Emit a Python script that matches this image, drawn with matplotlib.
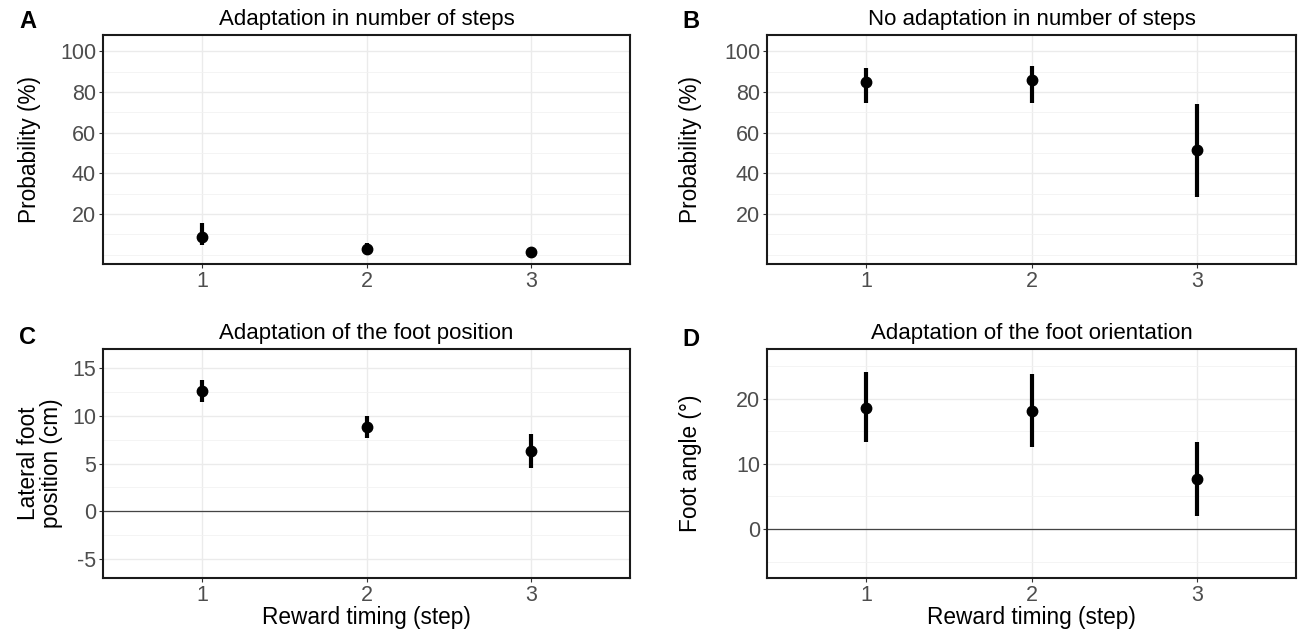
import matplotlib
matplotlib.use("Agg")
import matplotlib.pyplot as plt
import numpy as np

plt.rcParams['font.family'] = ['Liberation Sans', 'DejaVu Sans']
plt.rcParams['axes.unicode_minus'] = False

steps = [1, 2, 3]
step_labels = ["1", "2", "3"]

adapt_mean = [8.7, 3.0, 1.1]
adapt_lo = [4.6, 1.3, 0.5]
adapt_hi = [15.6, 5.7, 1.8]

noadapt_mean = [85.2, 86.1, 51.3]
noadapt_lo = [74.4, 74.6, 28.2]
noadapt_hi = [91.8, 93.0, 73.9]

pos_mean = [12.6, 8.83, 6.28]
pos_lo = [11.45, 7.64, 4.5]
pos_hi = [13.7, 9.98, 8.1]

angle_mean = [18.6, 18.1, 7.6]
angle_lo = [13.3, 12.55, 2.0]
angle_hi = [24.0, 23.7, 13.3]

W, H = 1298, 629
fig = plt.figure(figsize=(W / 100, H / 100), dpi=100)

def box(x0, x1, y0, y1):
    return [x0 / W, 1 - y1 / H, (x1 - x0) / W, (y1 - y0) / H]

panels = [
    dict(rect=box(103, 630, 35, 264), mean=adapt_mean, lo=adapt_lo, hi=adapt_hi,
         title="Adaptation in number of steps", ylabel="Probability (%)",
         ylim=(-4.6, 108.1), major=[20, 40, 60, 80, 100], minor=[0, 10, 30, 50, 70, 90],
         hline=False, xlabel=None, tag="A", tagpos=(28, 21), ylpos=30),
    dict(rect=box(767, 1296, 35, 264), mean=noadapt_mean, lo=noadapt_lo, hi=noadapt_hi,
         title="No adaptation in number of steps", ylabel="Probability (%)",
         ylim=(-4.6, 108.1), major=[20, 40, 60, 80, 100], minor=[0, 10, 30, 50, 70, 90],
         hline=False, xlabel=None, tag="B", tagpos=(691, 22), ylpos=690),
    dict(rect=box(103, 630, 349, 578), mean=pos_mean, lo=pos_lo, hi=pos_hi,
         title="Adaptation of the foot position", ylabel="Lateral foot\nposition (cm)",
         ylim=(-7.0, 17.0), major=[-5, 0, 5, 10, 15], minor=[-2.5, 2.5, 7.5, 12.5],
         hline=True, xlabel="Reward timing (step)", tag="C", tagpos=(28, 337), ylpos=40),
    dict(rect=box(767, 1296, 349, 578), mean=angle_mean, lo=angle_lo, hi=angle_hi,
         title="Adaptation of the foot orientation", ylabel="Foot angle (°)",
         ylim=(-7.5, 27.6), major=[0, 10, 20], minor=[-5, 5, 15, 25],
         hline=True, xlabel="Reward timing (step)", tag="D", tagpos=(691, 339), ylpos=690),
]

for p in panels:
    ax = fig.add_axes(p["rect"])
    ax.set_xlim(0.4, 3.6)
    ax.set_ylim(*p["ylim"])
    ax.set_xticks(steps)
    ax.set_xticklabels(step_labels)
    ax.set_yticks(p["major"])
    ax.set_yticks(p["minor"], minor=True)
    ax.grid(True, which="major", color="#EBEBEB", linewidth=1.0)
    ax.grid(True, which="minor", axis="y", color="#F2F2F2", linewidth=0.6)
    ax.set_axisbelow(True)
    ax.tick_params(axis="both", which="major", labelsize=15.5, colors="#333333",
                   labelcolor="#4D4D4D", length=3, width=0.8, pad=2)
    ax.tick_params(axis="y", which="minor", length=0)
    for s in ax.spines.values():
        s.set_color("#1A1A1A")
        s.set_linewidth(1.5)
    if p["hline"]:
        ax.axhline(0, color="#444444", linewidth=0.9, zorder=1)
    mean = np.array(p["mean"])
    yerr = np.vstack([mean - np.array(p["lo"]), np.array(p["hi"]) - mean])
    ax.errorbar(steps, mean, yerr=yerr, fmt="o", color="black", ecolor="black",
                elinewidth=3.0, capsize=0, markersize=7.5, zorder=3)
    ax.set_title(p["title"], fontsize=16, color="black", pad=7)
    if p["xlabel"]:
        ax.set_xlabel(p["xlabel"], fontsize=16.3, labelpad=0)
    yc = p["rect"][1] + p["rect"][3] / 2
    fig.text(p["ylpos"] / W, yc, p["ylabel"], rotation=90, ha="center", va="center",
             fontsize=16.3, color="black", linespacing=1.0)
    fig.text(p["tagpos"][0] / W, 1 - p["tagpos"][1] / H, p["tag"], fontsize=17,
             fontweight="bold", ha="center", va="center")

fig.savefig("out.png", dpi=100)
